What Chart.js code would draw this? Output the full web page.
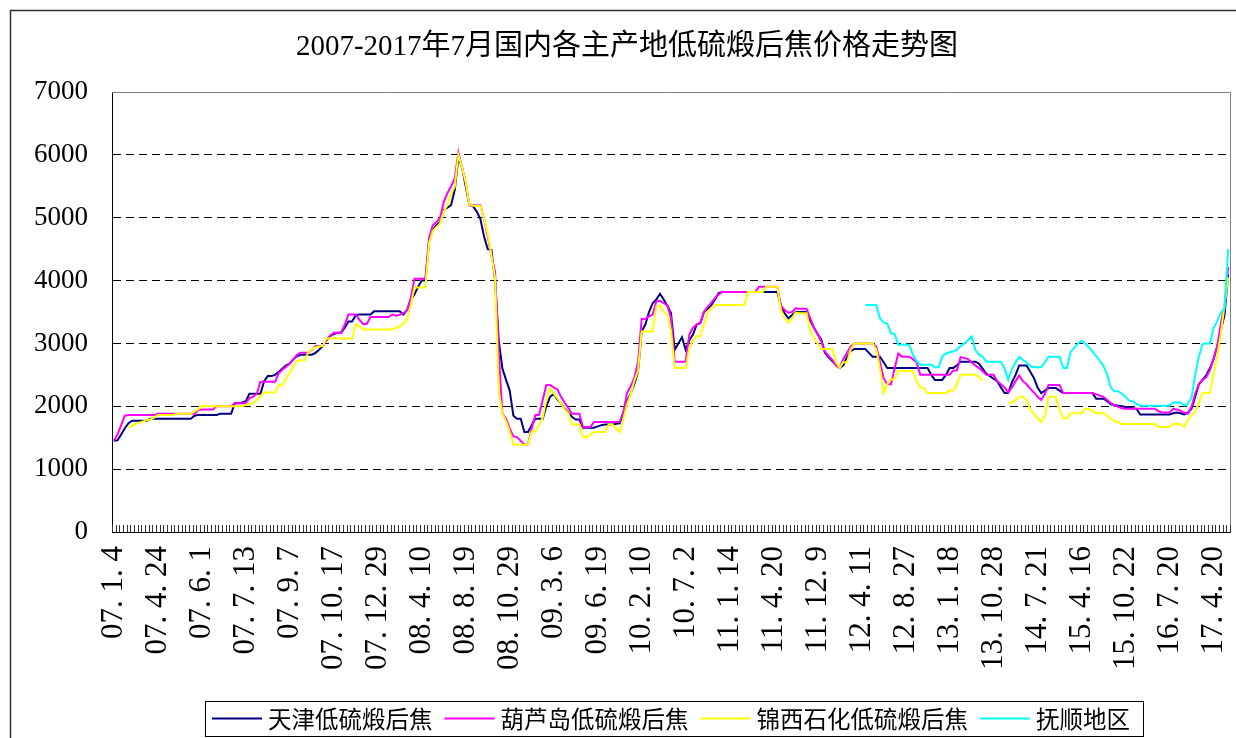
<!DOCTYPE html>
<html>
<head>
<meta charset="utf-8">
<script src="https://cdn.jsdelivr.net/npm/chart.js@4.4.0/dist/chart.umd.min.js"></script>
<style>
html, body { margin: 0; padding: 0; background: #fff; }
canvas { display: block; }
</style>
</head>
<body>
<canvas id="myChart" width="1236" height="738"></canvas>
<script>
var chartTitle = "2007-2017年7月国内各主产地低硫煅后焦价格走势图";
var seriesNames = ["天津低硫煅后焦", "葫芦岛低硫煅后焦", "锦西石化低硫煅后焦", "抚顺地区"];
var seriesColors = ["#000080", "#FF00FF", "#FFFF00", "#00FFFF"];

// one label every 12 categories
var tickLabels = ["07. 1. 4", "07. 4. 24", "07. 6. 1", "07. 7. 13", "07. 9. 7", "07. 10. 17",
  "07. 12. 29", "08. 4. 10", "08. 8. 19", "08. 10. 29", "09. 3. 6", "09. 6. 19", "10. 2. 10",
  "10. 7. 2", "11. 1. 14", "11. 4. 20", "11. 12. 9", "12. 4. 11", "12. 8. 27", "13. 1. 18",
  "13. 10. 28", "14. 7. 21", "15. 4. 16", "15. 10. 22", "16. 7. 20", "17. 4. 20"];
var labelStep = 12;

var tianjin = [
  1450,1460,1550,1650,1730,1770,1770,1770,1770,1770,
  1800,1800,1800,1800,1800,1800,1800,1800,1800,1800,
  1800,1800,1850,1860,1860,1860,1860,1860,1860,1880,
  1880,1880,1880,2050,2050,2060,2080,2200,2200,2200,
  2200,2400,2480,2480,2500,2550,2600,2650,2680,2750,
  2800,2820,2820,2820,2820,2850,2900,2960,3050,3120,
  3150,3170,3170,3250,3350,3350,3450,3460,3460,3460,
  3460,3510,3510,3510,3510,3510,3510,3510,3510,3460,
  3530,3690,3780,3900,4000,4000,4620,4800,4880,4930,
  5120,5160,5200,5440,5950,5800,5500,5200,5180,5100,
  4980,4700,4500,4490,4000,3050,2600,2420,2250,1850,
  1800,1800,1590,1590,1700,1800,1800,1800,2000,2150,
  2200,2110,2050,1960,1900,1830,1790,1790,1660,1660,
  1660,1660,1680,1700,1710,1710,1710,1720,1730,1900,
  2080,2200,2350,2550,3190,3300,3500,3640,3700,3790,
  3700,3600,3480,2900,3000,3100,2900,3050,3140,3300,
  3320,3500,3550,3610,3700,3800,3820,3820,3820,3820,
  3820,3820,3820,3820,3820,3820,3820,3820,3820,3820,
  3820,3820,3600,3480,3400,3450,3500,3500,3500,3500,
  3360,3250,3150,3060,2850,2780,2720,2660,2610,2650,
  2780,2880,2910,2910,2910,2910,2850,2790,2790,2790,
  2700,2610,2610,2610,2610,2610,2610,2610,2610,2610,
  2610,2610,2610,2500,2420,2420,2420,2500,2610,2610,
  2650,2710,2710,2710,2710,2710,2680,2600,2520,2480,
  2440,2400,2300,2210,2210,2380,2500,2650,2650,2650,
  2550,2450,2300,2210,2250,2290,2290,2290,2250,2210,
  2210,2210,2210,2210,2210,2210,2210,2210,2120,2120,
  2120,2080,2030,2020,2010,2000,1990,1980,1970,1960,
  1870,1870,1870,1870,1870,1870,1870,1870,1870,1890,
  1900,1890,1870,1900,1960,2150,2350,2420,2490,2600,
  2750,2950,3200,3450,4100
];

var huludao = [
  1450,1550,1700,1850,1860,1860,1860,1860,1860,1860,
  1860,1860,1880,1880,1880,1880,1880,1880,1880,1880,
  1880,1880,1880,1940,1950,1950,1950,1950,2000,2000,
  2000,2000,2000,2050,2050,2050,2050,2130,2150,2200,
  2390,2390,2390,2390,2390,2530,2580,2630,2680,2750,
  2820,2850,2850,2850,2900,2960,2960,2960,3050,3120,
  3170,3170,3170,3300,3460,3460,3460,3380,3310,3310,
  3420,3420,3420,3420,3420,3420,3460,3440,3455,3480,
  3530,3720,4030,4030,4030,4030,4680,4880,4930,5000,
  5250,5390,5500,5620,6040,5800,5560,5200,5200,5200,
  5200,4980,4710,4400,4140,2870,1880,1800,1650,1520,
  1510,1450,1390,1390,1650,1860,1860,2100,2340,2340,
  2300,2270,2150,2060,1970,1880,1880,1880,1670,1670,
  1670,1750,1750,1750,1750,1750,1750,1750,1750,1900,
  2210,2320,2450,2700,3390,3390,3430,3460,3670,3680,
  3640,3610,3400,2710,2710,2710,2710,3140,3250,3300,
  3330,3500,3580,3650,3720,3780,3820,3820,3820,3820,
  3820,3820,3820,3820,3820,3820,3900,3900,3900,3900,
  3900,3900,3600,3530,3490,3500,3560,3550,3550,3550,
  3400,3250,3150,3030,2870,2800,2740,2650,2610,2750,
  2850,2950,3000,3000,3000,3000,3000,3000,2950,2700,
  2450,2350,2350,2600,2840,2790,2790,2790,2750,2700,
  2500,2500,2500,2500,2500,2500,2500,2500,2500,2570,
  2570,2780,2770,2750,2700,2650,2610,2560,2500,2500,
  2500,2400,2350,2300,2220,2300,2400,2490,2400,2350,
  2280,2220,2150,2100,2200,2340,2340,2340,2340,2210,
  2210,2210,2210,2210,2210,2210,2210,2210,2190,2170,
  2150,2100,2050,2020,1990,1970,1960,1960,1960,1960,
  1960,1960,1960,1960,1960,1920,1900,1900,1900,1960,
  1950,1930,1900,1880,1990,2200,2350,2420,2460,2570,
  2750,2940,3320,3600,4220
];

var jinxi = [
  null,null,null,null,1670,1690,1720,1740,1760,1780,
  1790,1820,1860,1860,1860,1860,1860,1880,1880,1880,
  1880,1880,1920,1950,2000,2000,2000,2000,2000,2000,
  2000,2000,2000,2000,2000,2000,2020,2040,2050,2100,
  2160,2220,2220,2220,2220,2340,2340,2440,2540,2630,
  2730,2730,2730,2850,2910,2940,2950,2960,3080,3080,
  3080,3080,3080,3080,3080,3080,3310,3270,3220,3220,
  3220,3220,3220,3220,3220,3220,3220,3250,3270,3320,
  3380,3610,3890,3890,3890,3890,4590,4790,4850,4910,
  5100,5200,5390,5490,6000,5800,5560,5200,5190,5190,
  5190,4980,4750,4400,4040,2240,1880,1760,1600,1390,
  1390,1390,1390,1390,1600,1600,1700,1820,2100,2290,
  2200,2130,2050,1950,1890,1710,1710,1710,1510,1510,
  1550,1590,1590,1590,1590,1710,1710,1650,1590,1800,
  2030,2190,2400,2560,3190,3190,3190,3190,3590,3600,
  3500,3460,3200,2610,2610,2610,2610,2930,3050,3120,
  3120,3300,3500,3550,3610,3610,3610,3610,3610,3610,
  3610,3610,3610,3820,3820,3820,3820,3820,3900,3900,
  3900,3900,3530,3400,3330,3400,3490,3480,3480,3480,
  3200,3100,3000,2910,2910,2910,2910,2700,2610,2700,
  2700,2900,3000,3000,3000,3000,3000,3000,2900,2600,
  2210,2350,2430,2430,2560,2560,2560,2560,2560,2400,
  2300,2290,2210,2210,2210,2210,2210,2210,2250,2250,
  2350,2500,2500,2500,2500,2500,2470,2410,null,null,
  null,null,null,null,2060,2060,2100,2150,2150,2100,
  1950,1880,1810,1750,1850,2150,2150,2150,1950,1810,
  1810,1890,1890,1890,1890,1960,1960,1920,1890,1890,
  1890,1850,1800,1760,1750,1720,1720,1720,1720,1720,
  1720,1720,1720,1720,1720,1670,1670,1670,1670,1720,
  1720,1720,1670,1780,1850,1910,2050,2210,2210,2210,
  2500,2800,3150,3600,4050
];

// 抚顺 has no data before mid-2012
var fushun = Array(205).fill(null).concat([
                                    3610,3610,3610,3610,3400,
  3330,3320,3160,3150,2980,2980,2980,2980,2820,2720,
  2660,2660,2660,2660,2620,2620,2790,2840,2860,2870,
  2900,2960,3000,3050,3110,2900,2820,2790,2710,2710,
  2710,2710,2710,2600,2420,2590,2700,2790,2740,2700,
  2640,2620,2620,2620,2700,2790,2790,2790,2790,2610,
  2610,2860,2930,3000,3040,3000,2940,2870,2800,2720,
  2640,2500,2290,2240,2240,2200,2150,2090,2080,2040,
  2010,2010,2010,2010,2010,2010,2010,2010,2010,2060,
  2060,2060,2010,2040,2140,2500,2790,2990,3000,3000,
  3240,3350,3490,3550,4500
]);

var yTicks = [0, 1000, 2000, 3000, 4000, 5000, 6000, 7000];

var labels = tianjin.map(function (v, i) {
  return i % labelStep === 0 ? tickLabels[i / labelStep] : "";
});

var serif = '"Liberation Serif", "Noto Sans CJK SC", serif';
var cjk = '"Noto Sans CJK SC", "Liberation Serif", sans-serif';

var decor = {
  id: "decor",
  afterDraw: function (chart) {
    var ctx = chart.ctx;
    var area = chart.chartArea;
    var xs = chart.scales.x;
    ctx.save();

    // outer frame
    ctx.strokeStyle = "#333";
    ctx.lineWidth = 1.5;
    ctx.strokeRect(10.5, 10.5, 1260, 760);

    // plot area top / right border
    ctx.strokeStyle = "#808080";
    ctx.lineWidth = 1;
    ctx.beginPath();
    ctx.moveTo(area.left, area.top + 0.5);
    ctx.lineTo(area.right + 0.5, area.top + 0.5);
    ctx.lineTo(area.right + 0.5, area.bottom);
    ctx.stroke();

    // category tick marks, pointing into the plot
    ctx.strokeStyle = "#333";
    ctx.beginPath();
    for (var i = 0; i <= labels.length; i++) {
      var x = Math.round(xs.getPixelForValue(i - 0.5)) + 0.5;
      ctx.moveTo(x, area.bottom);
      ctx.lineTo(x, area.bottom - 7);
    }
    ctx.stroke();

    // title
    ctx.fillStyle = "#000";
    ctx.font = "29px " + serif;
    ctx.textAlign = "center";
    ctx.textBaseline = "middle";
    ctx.fillText(chartTitle, 627, 47);

    // legend
    var boxL = 205, boxR = 1143, boxT = 701, boxB = 736;
    ctx.strokeStyle = "#000";
    ctx.strokeRect(boxL + 0.5, boxT + 0.5, boxR - boxL, boxB - boxT);
    ctx.font = "23.5px " + cjk;
    ctx.textAlign = "left";
    var lx = 212, ly = 718.5;
    chart.data.datasets.forEach(function (ds) {
      ctx.strokeStyle = ds.borderColor;
      ctx.lineWidth = 2;
      ctx.beginPath();
      ctx.moveTo(lx, ly);
      ctx.lineTo(lx + 50, ly);
      ctx.stroke();
      ctx.fillStyle = "#000";
      ctx.fillText(ds.label, lx + 56, ly + 1);
      lx += 56 + ctx.measureText(ds.label).width + 12;
    });
    ctx.restore();
  }
};

var allSeries = [tianjin, huludao, jinxi, fushun];

new Chart("myChart", {
  type: "line",
  data: {
    labels: labels,
    datasets: allSeries.map(function (data, k) {
      return {
        label: seriesNames[k],
        data: data,
        borderColor: seriesColors[k],
        backgroundColor: seriesColors[k],
        borderWidth: 2,
        pointRadius: 0,
        tension: 0,
        fill: false,
        spanGaps: false,
        order: allSeries.length - k
      };
    })
  },
  plugins: [decor],
  options: {
    responsive: false,
    animation: false,
    events: [],
    layout: { padding: { top: 92, right: 6, left: 0, bottom: 0 } },
    plugins: {
      legend: { display: false },
      title: { display: false },
      tooltip: { enabled: false }
    },
    scales: {
      x: {
        offset: true,
        afterFit: function (scale) {
          scale.height = 206;
          scale.paddingLeft = 0;
          scale.paddingRight = 0;
        },
        grid: { display: false, drawTicks: false },
        border: { display: true, color: "#000", width: 1 },
        ticks: {
          autoSkip: false,
          minRotation: 90,
          maxRotation: 90,
          padding: 14,
          color: "#000",
          font: { family: serif, size: 31 }
        }
      },
      y: {
        min: 0,
        max: 7000,
        afterFit: function (scale) {
          scale.width = 112;
          scale.paddingTop = 0;
          scale.paddingBottom = 0;
        },
        afterBuildTicks: function (scale) {
          scale.ticks = yTicks.map(function (v) { return { value: v }; });
        },
        grid: {
          drawTicks: false,
          color: function (c) {
            var v = c.tick && c.tick.value;
            return (v === 0 || v === 7000) ? "rgba(0,0,0,0)" : "#000";
          }
        },
        border: { display: true, color: "#000", width: 1, dash: [8, 5] },
        ticks: {
          padding: 24,
          color: "#000",
          font: { family: serif, size: 27 },
          callback: function (v) { return String(v); }
        }
      }
    }
  }
});
</script>
</body>
</html>
